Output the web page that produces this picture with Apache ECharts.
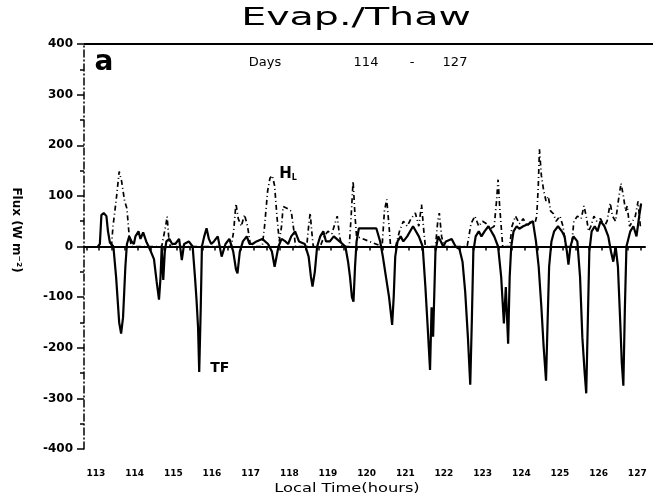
<!DOCTYPE html>
<html><head><meta charset="utf-8">
<script src="https://cdn.jsdelivr.net/npm/echarts@6/dist/echarts.min.js"></script>
<style>html,body{margin:0;padding:0;background:#fff}#c{width:653px;height:503px}</style>
</head><body><div id="c"></div>
<script>
// Day-of-year labels on the time axis
const dayLabels = [113,114,115,116,117,118,119,120,121,122,123,124,125,126,127];
// TF (solid line): time (day of year) and flux (W m-2)
const tfTime = [113.05,113.10,113.14,113.20,113.27,113.31,113.36,113.45,113.52,113.60,113.65,113.70,113.76,113.80,113.86,113.92,113.98,
114.02,114.10,114.15,114.22,114.30,114.42,114.50,114.57,114.63,114.67,114.70,114.74,114.78,114.82,114.90,114.97,
115.05,115.15,115.22,115.28,115.40,115.50,115.56,115.60,115.64,115.67,115.71,115.74,115.80,115.86,115.92,115.98,
116.05,116.15,116.25,116.35,116.45,116.55,116.62,116.66,116.72,116.80,116.90,116.97,
117.05,117.15,117.30,117.45,117.55,117.62,117.66,117.72,117.80,117.90,117.97,
118.05,118.15,118.25,118.40,118.50,118.56,118.60,118.66,118.72,118.80,118.88,118.95,
119.05,119.15,119.30,119.45,119.52,119.57,119.62,119.66,119.70,119.74,119.80,119.90,
120.05,120.25,120.35,120.42,120.50,120.58,120.66,120.70,120.74,120.80,120.88,120.95,
121.05,121.20,121.35,121.45,121.52,121.58,121.64,121.68,121.72,121.78,121.85,121.92,121.98,
122.05,122.20,122.30,122.40,122.48,122.55,122.62,122.68,122.72,122.76,122.82,122.90,122.97,
123.05,123.15,123.30,123.40,123.48,123.55,123.60,123.66,123.70,123.74,123.80,123.88,123.95,
124.05,124.20,124.30,124.38,124.45,124.52,124.58,124.64,124.68,124.72,124.78,124.85,124.95,
125.05,125.12,125.18,125.22,125.27,125.35,125.45,125.52,125.58,125.64,125.68,125.72,125.76,125.82,125.90,125.97,
126.05,126.15,126.25,126.32,126.38,126.44,126.50,126.56,126.60,126.64,126.68,126.72,126.82,126.90,126.98,
127.05,127.10];
const tfFlux = [0,5,62,66,60,30,8,0,-60,-150,-172,-140,-40,5,20,10,5,
20,30,15,28,10,-10,-25,-70,-105,-60,0,-66,-10,10,15,5,
5,15,-27,5,10,0,-60,-105,-160,-248,-120,0,20,36,15,5,
10,20,-20,5,15,-10,-45,-53,-10,10,20,5,
5,10,15,5,-10,-40,-38,0,15,10,5,
20,30,10,5,-20,-60,-79,-50,0,20,30,10,
10,20,10,0,-30,-60,-100,-109,-40,10,36,36,
36,36,10,-20,-60,-100,-155,-100,-20,10,20,10,
20,40,20,0,-80,-160,-244,-120,-178,-10,20,10,0,
10,15,0,-5,-30,-90,-180,-273,-150,-10,20,30,20,
30,40,20,0,-60,-152,-80,-192,-60,0,30,40,35,
40,45,50,10,-40,-120,-200,-265,-150,-40,10,30,40,
30,20,-10,-36,0,20,10,-60,-180,-250,-290,-150,-10,30,40,30,
50,40,20,-10,-30,0,-40,-150,-230,-275,-120,0,30,40,20,
60,85];
// H_L (dash-dot line): time and flux
const hlTime = [113.40,113.44,113.52,113.60,113.66,113.74,113.80,113.86,113.92,
114.70,114.80,114.84,114.88,114.92,
116.50,116.56,116.62,116.68,116.76,116.84,116.92,117.00,
117.30,117.36,117.44,117.50,117.56,117.62,117.68,117.74,117.80,117.84,117.95,118.05,118.12,118.16,
118.45,118.50,118.54,118.58,118.62,
118.80,118.90,119.00,119.10,119.24,119.30,119.36,
119.55,119.60,119.65,119.70,119.74,
120.40,120.46,120.52,120.58,120.62,
120.75,120.85,120.95,121.05,121.15,121.26,121.35,121.42,121.48,121.52,
121.78,121.84,121.88,121.94,122.00,
122.60,122.70,122.80,122.90,123.00,123.10,123.20,123.30,123.36,123.40,123.44,123.48,123.52,
123.70,123.76,123.85,123.95,124.05,124.15,124.25,124.35,124.40,124.44,124.47,124.52,124.58,124.64,124.70,124.76,124.83,124.90,125.00,125.08,125.15,
125.30,125.36,125.45,125.55,125.62,125.68,125.74,125.80,125.88,125.95,126.05,126.15,126.22,126.30,126.36,126.44,126.51,126.58,126.64,126.70,126.74,126.80,126.88,126.95,127.02,127.08];
const hlFlux = [0,40,90,148,130,90,75,20,0,
0,40,59,20,0,
0,30,85,55,40,63,40,0,
0,40,110,135,140,120,60,10,40,79,75,70,30,0,
0,40,66,30,0,
0,20,30,25,60,20,0,
0,60,129,60,20,
0,70,93,40,0,
0,30,50,40,55,66,40,83,30,0,
0,50,66,20,0,
0,45,60,40,50,45,35,40,90,132,80,40,0,
0,40,60,45,55,40,50,45,60,120,192,140,110,90,99,70,65,50,60,40,0,
0,50,60,55,80,60,30,40,60,50,55,40,50,86,60,50,90,125,100,70,80,40,50,60,89,40];
// Y axis ticks
const yMin = -400, yMax = 400, yStep = 100;

const tfData = tfTime.map((t,i)=>[t,tfFlux[i]]);
const hlData = hlTime.map((t,i)=>[t,hlFlux[i]]);
const tfMinIdx = 42; // Day 115 dip (labelled TF)
let hlPeak = 0; for (let i=0;i<hlFlux.length;i++){ if (hlTime[i]>117 && hlTime[i]<118 && hlFlux[i]>hlFlux[hlPeak]) hlPeak=i; }
if (!(hlTime[hlPeak]>117)) { hlPeak = hlTime.indexOf(117.56); }
const tfMin = tfFlux.indexOf(-248);

const xTicks = [];
for (let d=112.75; d<=127.2; d+=1/3) xTicks.push(+d.toFixed(3));

const chart = echarts.init(document.getElementById('c'), null, {renderer:'canvas'});
chart.setOption({
  backgroundColor:'#fff',
  animation:false,
  grid:{left:84,right:8,top:44,bottom:54},
  xAxis:{
    type:'value', min:112.69, max:127.2,
    axisLine:{show:true,lineStyle:{color:'#000',width:2}},
    axisTick:{show:true,customValues:xTicks,length:4,inside:false,lineStyle:{color:'#000',width:1.5}},
    axisLabel:{customValues:dayLabels,formatter:v=>String(Math.round(v)),fontSize:9,fontWeight:'bold',color:'#000',margin:20,fontFamily:'DejaVu Sans'},
    splitLine:{show:false}
  },
  yAxis:{
    type:'value', min:yMin, max:yMax, interval:yStep,
    axisLine:{show:true,lineStyle:{color:'#111',width:1.6,type:[7,3,1,3]}},
    axisTick:{show:true,length:7,lineStyle:{color:'#000',width:1.5}},
    minorTick:{show:true,splitNumber:2,length:4,lineStyle:{color:'#000',width:1.5}},
    axisLabel:{fontSize:12,fontWeight:'bold',color:'#000',margin:11,fontFamily:'DejaVu Sans'},
    splitLine:{show:false}
  },
  series:[
    {
      name:'TF', type:'line', data:tfData, symbol:'none', z:3,
      lineStyle:{color:'#000',width:2.2},
      markLine:{silent:true,symbol:['none','none'],data:[{yAxis:0}],lineStyle:{color:'#000',width:2,type:'solid'},label:{show:false}},
      markPoint:{symbol:'circle',symbolSize:0,data:[{coord:[tfTime[tfMin],tfFlux[tfMin]],label:{show:true,formatter:'TF',position:'right',offset:[6,-4],fontSize:14,fontWeight:'bold',color:'#000',fontFamily:'DejaVu Sans'}}]}
    },
    {
      name:'HL', type:'line', data:hlData, symbol:'none', z:2,
      lineStyle:{color:'#000',width:1.7,type:[5,3,1,3]},
      markPoint:{symbol:'circle',symbolSize:0,data:[{coord:[hlTime[hlPeak],hlFlux[hlPeak]],label:{show:true,formatter:'{h|H}{l|L}',position:'right',offset:[2,-2],rich:{h:{fontSize:15,fontWeight:'bold',color:'#000',fontFamily:'DejaVu Sans'},l:{fontSize:8,fontWeight:'bold',color:'#000',padding:[8,0,0,0],fontFamily:'DejaVu Sans'}}}}]}
    }
  ],
  graphic:[
    {type:'line',shape:{x1:84,y1:44,x2:653,y2:44},style:{stroke:'#000',lineWidth:2},silent:true},
    {type:'text',x:356,y:19,scaleX:1.65,style:{text:'Evap./Thaw',font:'24px "DejaVu Sans"',fill:'#000',align:'center',verticalAlign:'middle'}},
    {type:'text',x:104,y:63,style:{text:'a',font:'bold 28px "DejaVu Sans"',fill:'#000',align:'center',verticalAlign:'middle'}},
    {type:'text',x:265,y:63,style:{text:'Days',font:'13px "DejaVu Sans"',fill:'#000',align:'center',verticalAlign:'middle'}},
    {type:'text',x:366,y:63,style:{text:'114',font:'13px "DejaVu Sans"',fill:'#000',align:'center',verticalAlign:'middle'}},
    {type:'text',x:412,y:63,style:{text:'-',font:'13px "DejaVu Sans"',fill:'#000',align:'center',verticalAlign:'middle'}},
    {type:'text',x:455,y:63,style:{text:'127',font:'13px "DejaVu Sans"',fill:'#000',align:'center',verticalAlign:'middle'}},
    {type:'text',x:347,y:489,scaleX:1.25,style:{text:'Local Time(hours)',font:'13px "DejaVu Sans"',fill:'#000',align:'center',verticalAlign:'middle'}},
    {type:'text',x:16,y:230,rotation:-Math.PI/2,style:{text:'Flux (W m⁻²)',font:'bold 12px "DejaVu Sans"',fill:'#000',align:'center',verticalAlign:'middle'}}
  ]
});
</script></body></html>
